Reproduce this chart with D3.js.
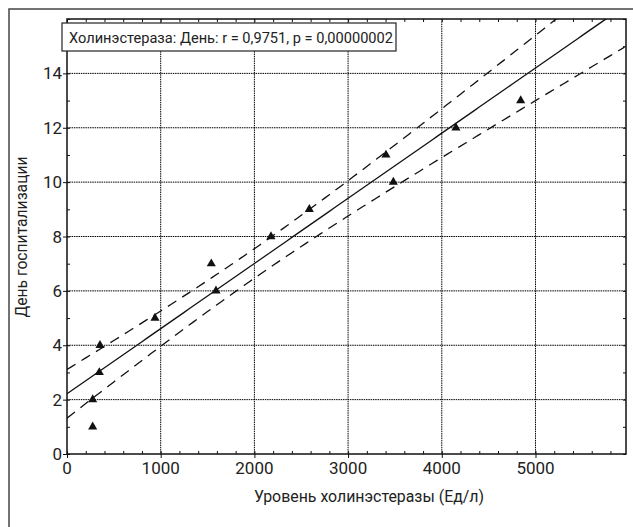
<!DOCTYPE html>
<html>
<head>
<meta charset="utf-8">
<script src="https://cdn.jsdelivr.net/npm/d3@7"></script>
<style>
  body { margin: 0; background: #fff; }
  text { font-family: Roboto, "Liberation Sans", sans-serif; fill: #222; }
</style>
</head>
<body>
<svg id="chart" width="633" height="527"></svg>
<script>
  // values
  var cholinesterase = [274, 274, 345, 352, 939, 1590, 1540, 2177, 2586, 3483, 3404, 4151, 4842];
  var hospitalDay    = [1,   2,   3,   4,   5,   6,    7,    8,    9,    10,   11,   12,   13];
  var xTicks = [0, 1000, 2000, 3000, 4000, 5000];
  var yTicks = [0, 2, 4, 6, 8, 10, 12, 14];
  var legendText = "Холинэстераза: День: r = 0,9751, p = 0,00000002";
  var xTitle = "Уровень холинэстеразы (Ед/л)";
  var yTitle = "День госпитализации";
  var tCrit = 2.201; // t(0.975, 11)

  // plot box (window.top is read-only, so keep these names apart)
  var pLeft = 67, pRight = 626, pTop = 19, pBottom = 454;

  var x = d3.scaleLinear().domain([0, 5966]).range([pLeft, pRight]);
  var y = d3.scaleLinear().domain([0, 16]).range([pBottom, pTop]);

  var svg = d3.select("#chart");

  // outer frame
  svg.append("rect")
    .attr("x", 9).attr("y", 9)
    .attr("width", 700).attr("height", 700)
    .attr("fill", "none")
    .attr("stroke", "#444")
    .attr("stroke-width", 1.5);

  svg.append("clipPath").attr("id", "plotclip")
    .append("rect")
    .attr("x", pLeft).attr("y", pTop)
    .attr("width", pRight - pLeft).attr("height", pBottom - pTop);

  // grid
  var grid = svg.append("g");
  grid.selectAll("line.vx")
    .data(xTicks.slice(1))
    .enter().append("line")
    .attr("x1", function(d){ return x(d); })
    .attr("x2", function(d){ return x(d); })
    .attr("y1", pTop).attr("y2", pBottom)
    .attr("stroke", "#000").attr("stroke-width", 1)
    .attr("stroke-dasharray", "1.5,0.8");
  grid.selectAll("line.hy")
    .data(yTicks.slice(1))
    .enter().append("line")
    .attr("y1", function(d){ return y(d); })
    .attr("y2", function(d){ return y(d); })
    .attr("x1", pLeft).attr("x2", pRight)
    .attr("stroke", "#000").attr("stroke-width", 1)
    .attr("stroke-dasharray", "1.5,0.8");

  // axes (minor ticks inward on all four sides)
  var xMinor = d3.range(0, 5966, 200);
  var yMinor = d3.range(0, 16.01, 1);

  function noDomain(g){ g.select(".domain").remove(); }

  svg.append("g")
    .attr("transform", "translate(0," + pBottom + ")")
    .call(d3.axisBottom(x).tickValues(xTicks).tickSize(4).tickFormat(""))
    .call(noDomain);
  svg.append("g")
    .attr("transform", "translate(0," + pBottom + ")")
    .call(d3.axisTop(x).tickValues(xMinor).tickSize(3).tickFormat(""))
    .call(noDomain);
  svg.append("g")
    .attr("transform", "translate(0," + pTop + ")")
    .call(d3.axisBottom(x).tickValues(xMinor).tickSize(3).tickFormat(""))
    .call(noDomain);
  svg.append("g")
    .attr("transform", "translate(" + pLeft + ",0)")
    .call(d3.axisLeft(y).tickValues(yTicks).tickSize(4).tickFormat(""))
    .call(noDomain);
  svg.append("g")
    .attr("transform", "translate(" + pLeft + ",0)")
    .call(d3.axisRight(y).tickValues(yMinor).tickSize(3).tickFormat(""))
    .call(noDomain);
  svg.append("g")
    .attr("transform", "translate(" + pRight + ",0)")
    .call(d3.axisLeft(y).tickValues(yMinor).tickSize(3).tickFormat(""))
    .call(noDomain);
  svg.selectAll(".tick line").attr("stroke", "#111");

  // tick labels
  svg.append("g").selectAll("text")
    .data(xTicks)
    .enter().append("text")
    .attr("x", function(d){ return x(d); })
    .attr("y", 474)
    .attr("text-anchor", "middle")
    .attr("font-size", "17px")
    .text(function(d){ return d; });
  svg.append("g").selectAll("text")
    .data(yTicks)
    .enter().append("text")
    .attr("x", 62)
    .attr("y", function(d){ return y(d) + 6; })
    .attr("text-anchor", "end")
    .attr("font-size", "17px")
    .text(function(d){ return d; });

  // regression + 95% bands
  var n = cholinesterase.length;
  var mx = d3.mean(cholinesterase), my = d3.mean(hospitalDay);
  var sxx = d3.sum(cholinesterase, function(v){ return (v - mx) * (v - mx); });
  var sxy = d3.sum(cholinesterase, function(v, i){ return (v - mx) * (hospitalDay[i] - my); });
  var slope = sxy / sxx, icpt = my - slope * mx;
  var sse = d3.sum(cholinesterase, function(v, i){
    var r = hospitalDay[i] - (icpt + slope * v); return r * r; });
  var s = Math.sqrt(sse / (n - 2));
  function band(xv, sign) {
    var hw = tCrit * s * Math.sqrt(1 / n + (xv - mx) * (xv - mx) / sxx);
    return icpt + slope * xv + sign * hw;
  }
  var xs = d3.range(0, 5967, 50);
  var plot = svg.append("g").attr("clip-path", "url(#plotclip)");
  var line = d3.line().x(function(d){ return x(d[0]); }).y(function(d){ return y(d[1]); });

  plot.append("path")
    .datum(xs.map(function(v){ return [v, icpt + slope * v]; }))
    .attr("d", line).attr("fill", "none")
    .attr("stroke", "#111").attr("stroke-width", 1.3);
  [1, -1].forEach(function(sg){
    plot.append("path")
      .datum(xs.map(function(v){ return [v, band(v, sg)]; }))
      .attr("d", line).attr("fill", "none")
      .attr("stroke", "#111").attr("stroke-width", 1.3)
      .attr("stroke-dasharray", "10,7");
  });

  // points
  svg.append("g").selectAll("path")
    .data(cholinesterase)
    .enter().append("path")
    .attr("d", d3.symbol().type(d3.symbolTriangle).size(36))
    .attr("transform", function(d, i){ return "translate(" + x(d) + "," + y(hospitalDay[i]) + ")"; })
    .attr("fill", "#111");

  // plot border
  svg.append("rect")
    .attr("x", pLeft).attr("y", pTop)
    .attr("width", pRight - pLeft).attr("height", pBottom - pTop)
    .attr("fill", "none").attr("stroke", "#111").attr("stroke-width", 1.5);

  // legend box
  svg.append("rect")
    .attr("x", 62).attr("y", 23).attr("width", 334).attr("height", 28)
    .attr("fill", "#fff").attr("stroke", "#222").attr("stroke-width", 1.2);
  svg.append("text")
    .attr("x", 69).attr("y", 43)
    .attr("font-size", "14px")
    .attr("textLength", 324).attr("lengthAdjust", "spacingAndGlyphs")
    .text(legendText);

  // axis titles
  svg.append("text")
    .attr("x", 369).attr("y", 502)
    .attr("text-anchor", "middle")
    .attr("font-size", "16px")
    .attr("textLength", 230).attr("lengthAdjust", "spacingAndGlyphs")
    .text(xTitle);
  svg.append("text")
    .attr("transform", "translate(27,237) rotate(-90)")
    .attr("text-anchor", "middle")
    .attr("font-size", "16px")
    .attr("textLength", 161).attr("lengthAdjust", "spacingAndGlyphs")
    .text(yTitle);
</script>
</body>
</html>
